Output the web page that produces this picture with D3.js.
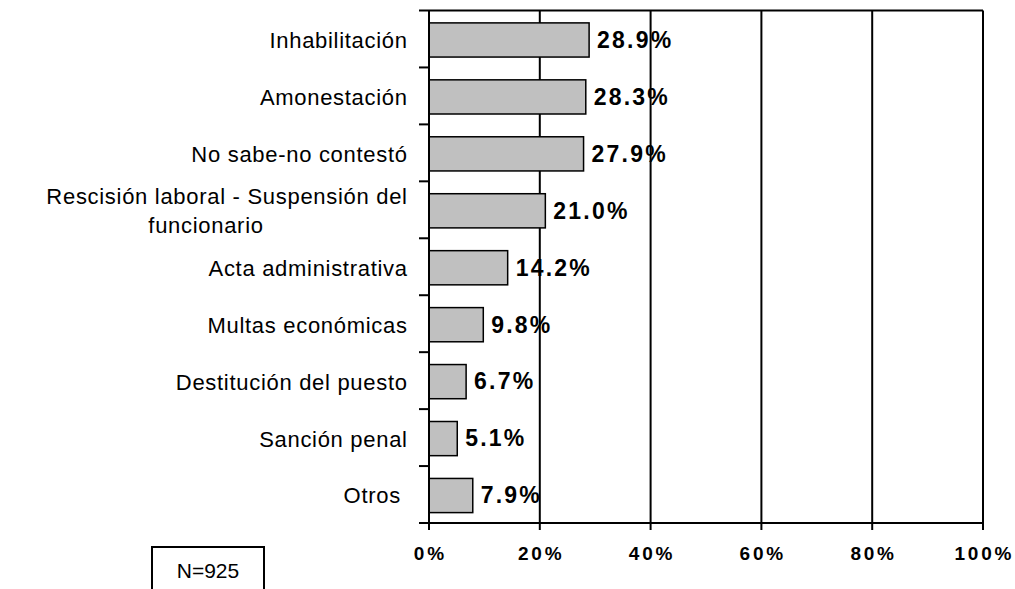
<!DOCTYPE html>
<html>
<head>
<meta charset="utf-8">
<script src="https://cdn.jsdelivr.net/npm/d3@7"></script>
<style>
  body { margin: 0; background: #fff; }
  text { font-family: "Liberation Sans", Arial, sans-serif; fill: #000; white-space: pre; }
</style>
</head>
<body>
<svg id="chart" width="1015" height="589"></svg>
<script>
// data
const categories = [
  ["Inhabilitación"],
  ["Amonestación"],
  ["No sabe-no contestó"],
  ["Rescisión laboral - Suspensión del", "funcionario"],
  ["Acta administrativa"],
  ["Multas económicas"],
  ["Destitución del puesto"],
  ["Sanción penal"],
  ["Otros "]
];
const values = [28.9, 28.3, 27.9, 21.0, 14.2, 9.8, 6.7, 5.1, 7.9];
const xTicks = [0, 20, 40, 60, 80, 100];
const note = "N=925";

const plotL = 429, plotR = 983, plotT = 10.5, plotB = 523;
const labRight = 407;
const catLS = 0.7, valLS = 2.2, tickLS = 2.8;

const svg = d3.select("#chart");

const x = d3.scaleLinear().domain([0, 100]).range([plotL, plotR]);
const y = d3.scaleBand()
  .domain(d3.range(categories.length))
  .range([plotT, plotB])
  .paddingInner(0.4)
  .paddingOuter(0.2);

// gridlines (vertical) + top border
svg.append("g")
  .selectAll("line")
  .data(xTicks.slice(1))
  .join("line")
  .attr("x1", d => x(d)).attr("x2", d => x(d))
  .attr("y1", plotT).attr("y2", plotB)
  .attr("stroke", "#000").attr("stroke-width", 2);

svg.append("line")
  .attr("x1", plotL).attr("x2", plotR)
  .attr("y1", plotT).attr("y2", plotT)
  .attr("stroke", "#000").attr("stroke-width", 2);

// bars
svg.append("g")
  .selectAll("rect")
  .data(values)
  .join("rect")
  .attr("x", x(0))
  .attr("y", (d, i) => y(i) + 1)
  .attr("width", d => x(d) - x(0))
  .attr("height", y.bandwidth())
  .attr("fill", "#c0c0c0")
  .attr("stroke", "#000")
  .attr("stroke-width", 1.5);

// value labels
svg.append("g")
  .selectAll("text")
  .data(values)
  .join("text")
  .attr("x", d => x(d) + 8)
  .attr("y", (d, i) => y(i) + 1 + y.bandwidth() / 2)
  .attr("dy", "0.34em")
  .attr("font-size", 23)
  .attr("font-weight", "bold")
  .attr("letter-spacing", valLS)
  .text(d => d.toFixed(1) + "%");

// y axis: line + ticks at band boundaries
const yBounds = d3.range(categories.length + 1).map(i => plotT + i * y.step());
svg.append("line")
  .attr("x1", plotL).attr("x2", plotL)
  .attr("y1", plotT).attr("y2", plotB)
  .attr("stroke", "#000").attr("stroke-width", 2);
svg.append("g")
  .selectAll("line")
  .data(yBounds)
  .join("line")
  .attr("x1", plotL - 10).attr("x2", plotL)
  .attr("y1", d => d).attr("y2", d => d)
  .attr("stroke", "#000").attr("stroke-width", 2);

// category labels
const lineGap = 29;
const lab = svg.append("g")
  .selectAll("text")
  .data(categories)
  .join("text")
  .attr("font-size", 22)
  .attr("letter-spacing", catLS)
  .attr("y", (d, i) => y(i) + 1 + y.bandwidth() / 2 - (d.length - 1) * lineGap / 2)
  .attr("dy", "0.36em");
lab.each(function(d) {
  const t = d3.select(this);
  if (d.length === 1) {
    t.attr("x", labRight + catLS).attr("text-anchor", "end").text(d[0]);
  } else {
    // wrapped label: first line right-aligned, next lines centred under it
    t.attr("dy", null);
    t.append("tspan").attr("x", labRight + catLS).attr("dy", "0.36em")
      .attr("text-anchor", "end").text(d[0]);
    d.slice(1).forEach(line => {
      t.append("tspan").attr("x", 206).attr("dy", lineGap)
        .attr("text-anchor", "middle").text(line);
    });
  }
});

// x axis
svg.append("line")
  .attr("x1", plotL - 10).attr("x2", plotR)
  .attr("y1", plotB).attr("y2", plotB)
  .attr("stroke", "#000").attr("stroke-width", 2);
svg.append("g")
  .selectAll("line")
  .data(xTicks)
  .join("line")
  .attr("x1", d => x(d)).attr("x2", d => x(d))
  .attr("y1", plotB).attr("y2", plotB + 7)
  .attr("stroke", "#000").attr("stroke-width", 2);
svg.append("g")
  .selectAll("text")
  .data(xTicks)
  .join("text")
  .attr("x", d => x(d) + tickLS / 2)
  .attr("y", 553)
  .attr("dy", "0.36em")
  .attr("text-anchor", "middle")
  .attr("font-size", 19)
  .attr("font-weight", "bold")
  .attr("letter-spacing", tickLS)
  .text(d => d + "%");

// note box
svg.append("rect")
  .attr("x", 152).attr("y", 547)
  .attr("width", 112).attr("height", 60)
  .attr("fill", "#fff").attr("stroke", "#000").attr("stroke-width", 2);
svg.append("text")
  .attr("x", 208).attr("y", 578)
  .attr("text-anchor", "middle")
  .attr("font-size", 21)
  .text(note);
</script>
</body>
</html>
